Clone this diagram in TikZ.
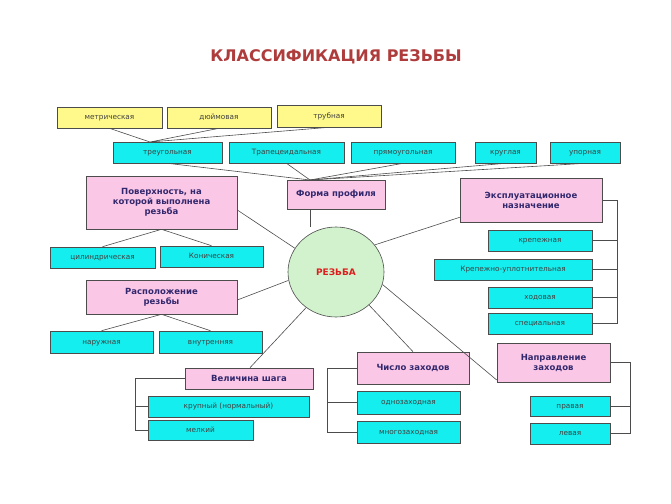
\documentclass[tikz,border=0pt]{standalone}
\usepackage{fontspec}
\setmainfont{DejaVu Sans}
\usetikzlibrary{shapes.geometric}
\definecolor{cyb}{RGB}{20,238,238}
\begin{document}
\begin{tikzpicture}[x=1pt,y=-1pt,line width=0.6pt,
 cy/.style={draw=black!70,fill=cyb,font=\fontsize{7.3}{8}\selectfont,text=black!75,inner sep=0,text height=5.5pt,text depth=1.5pt},
 ye/.style={draw=black!70,fill=yellow!45,font=\fontsize{7.3}{8}\selectfont,text=black!75,inner sep=0,text height=5.5pt,text depth=1.5pt},
 pk/.style={draw=black!70,fill=magenta!22,font=\bfseries\fontsize{8.5}{10}\selectfont,text={rgb,255:red,50;green,40;blue,110},align=center,inner sep=0},
 ln/.style={draw=black!70}]
\useasboundingbox (0,0) rectangle (671,503);
\newcommand\bx[6]{\node[#1,minimum width=#4-#2,minimum height=#5-#3] (#6) at ({(#2+#4)/2},{(#3+#5)/2})}
\node[font=\bfseries\fontsize{16}{18}\selectfont,text={rgb,255:red,175;green,60;blue,60}] (title) at (336,57) {КЛАССИФИКАЦИЯ РЕЗЬБЫ};
\bx{ye}{57}{107}{162}{128}{m} {метрическая};
\bx{ye}{167}{107}{271}{128}{d} {дюймовая};
\bx{ye}{277}{105}{381}{127}{t} {трубная};
\bx{cy}{113}{142}{222}{163}{tr} {треугольная};
\bx{cy}{229}{142}{344}{163}{tp} {Трапецеидальная};
\bx{cy}{351}{142}{455}{163}{pr} {прямоугольная};
\bx{cy}{475}{142}{536}{163}{kr} {круглая};
\bx{cy}{550}{142}{620}{163}{up} {упорная};
\bx{pk}{287}{180}{385}{209}{fp} {Форма профиля};
\bx{pk}{86}{176}{237}{229}{pov} {Поверхность, на\\которой выполнена\\резьба};
\bx{pk}{460}{178}{602}{222}{ex} {Эксплуатационное\\назначение};
\bx{cy}{50}{247}{155}{268}{cil} {цилиндрическая};
\bx{cy}{160}{246}{263}{267}{kon} {Коническая};
\bx{pk}{86}{280}{237}{314}{ras} {Расположение\\резьбы};
\bx{cy}{50}{331}{153}{353}{nar} {наружная};
\bx{cy}{159}{331}{262}{353}{vn} {внутренняя};
\bx{cy}{488}{230}{592}{251}{e1} {крепежная};
\bx{cy}{434}{259}{592}{280}{e2} {Крепежно-уплотнительная};
\bx{cy}{488}{287}{592}{308}{e3} {ходовая};
\bx{cy}{488}{313}{592}{334}{e4} {специальная};
\bx{pk}{497}{343}{610}{382}{np} {Направление\\заходов};
\bx{cy}{530}{396}{610}{416}{n1} {правая};
\bx{cy}{530}{423}{610}{444}{n2} {левая};
\bx{pk}{357}{352}{469}{384}{ch} {Число заходов};
\bx{cy}{357}{391}{460}{414}{c1} {однозаходная};
\bx{cy}{357}{421}{460}{443}{c2} {многозаходная};
\bx{pk}{185}{368}{313}{389}{vs} {Величина шага};
\bx{cy}{148}{396}{309}{417}{v1} {крупный (нормальный)};
\bx{cy}{148}{420}{253}{440}{v2} {мелкий};
\node[ellipse,draw=black!70,fill={rgb,255:red,210;green,242;blue,205},minimum width=96,minimum height=90,font=\bfseries\fontsize{9}{10}\selectfont,text={rgb,255:red,220;green,30;blue,30},inner sep=0] (c) at (336,272) {РЕЗЬБА};
\coordinate (a1) at (150,142);
\draw[ln] (m.south) -- (a1) (d.south) -- (a1) (t.south) -- (a1);
\coordinate (a2) at (310,180);
\foreach \n in {tr,tp,pr,kr,up} \draw[ln] (\n.south) -- (a2);
\draw[ln] (fp.south -| 310,0) -- (c.north -| 310,0);
\draw[ln] (pov.east |- 0,210) -- (c.150);
\draw[ln] (ex.south west) ++(0,-5) -- (c.35);
\draw[ln] (pov.south) -- (cil.north) (pov.south) -- (kon.north);
\draw[ln] (ras.east |- 0,300) -- (c.190);
\draw[ln] (ras.south) -- (nar.north) (ras.south) -- (vn.north);
\draw[ln] (ex.east) -| (617,0|-e4.east) -- (e4.east);
\foreach \n in {e1,e2,e3} \draw[ln] (\n.east) -- (617,0|-\n.east);
\draw[ln] (c.-15) -- (np.west |- 0,380);
\draw[ln] (np.east) -| (630,0|-n2.east) -- (n2.east);
\draw[ln] (n1.east) -- (630,0|-n1.east);
\draw[ln] (c.-45) -- (ch.north -| 413,0);
\draw[ln] (ch.west) -| (327,0|-c2.west) -- (c2.west);
\draw[ln] (c1.west) -- (327,0|-c1.west);
\draw[ln] (c.-130) -- (vs.north -| 250,0);
\draw[ln] (vs.west) -| (135,0|-v2.west) -- (v2.west);
\draw[ln] (v1.west) -- (135,0|-v1.west);
\end{tikzpicture}
\end{document}
